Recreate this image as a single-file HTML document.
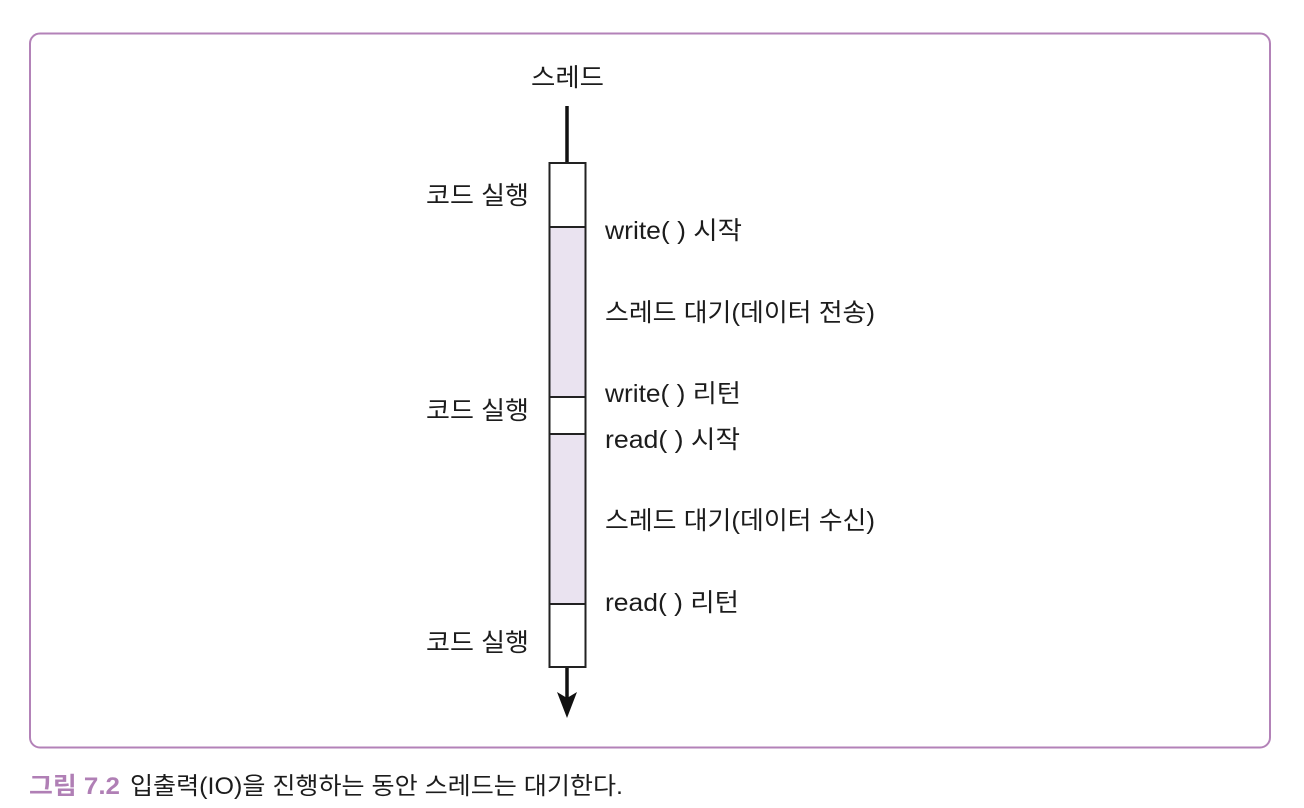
<!DOCTYPE html>
<html lang="ko">
<head>
<meta charset="utf-8">
<title>그림 7.2</title>
<style>
  html, body { margin: 0; padding: 0; background: #fff; }
  svg { display: block; }
  text { font-family: "Liberation Sans", "Noto Sans CJK KR", "NanumGothic", sans-serif; font-size: 25px; fill: #1c1c1c; }
</style>
</head>
<body>
<svg id="diagram" width="1304" height="808" viewBox="0 0 1304 808" xmlns="http://www.w3.org/2000/svg">
  <rect x="30" y="33.5" width="1240" height="714" rx="10" ry="10" fill="#fff" stroke="#b382b8" stroke-width="2"/>

  <text x="531" y="86" textLength="73" lengthAdjust="spacingAndGlyphs">스레드</text>

  <line x1="567" y1="106" x2="567" y2="163" stroke="#111" stroke-width="3.5"/>
  <line x1="567" y1="667" x2="567" y2="700" stroke="#111" stroke-width="3.5"/>
  <polygon points="567,718 557,692 567,698 577,692" fill="#111"/>

  <g id="segments"></g>

  <text x="426" y="204" textLength="103" lengthAdjust="spacingAndGlyphs">코드 실행</text>
  <text x="426" y="419" textLength="103" lengthAdjust="spacingAndGlyphs">코드 실행</text>
  <text x="426" y="651" textLength="103" lengthAdjust="spacingAndGlyphs">코드 실행</text>

  <text x="605" y="239" textLength="137" lengthAdjust="spacingAndGlyphs">write( ) 시작</text>
  <text x="605" y="321" textLength="270" lengthAdjust="spacingAndGlyphs">스레드 대기(데이터 전송)</text>
  <text x="605" y="402" textLength="136" lengthAdjust="spacingAndGlyphs">write( ) 리턴</text>
  <text x="605" y="448" textLength="135" lengthAdjust="spacingAndGlyphs">read( ) 시작</text>
  <text x="605" y="529" textLength="270" lengthAdjust="spacingAndGlyphs">스레드 대기(데이터 수신)</text>
  <text x="605" y="611" textLength="134" lengthAdjust="spacingAndGlyphs">read( ) 리턴</text>

  <text x="29" y="794" textLength="91" lengthAdjust="spacingAndGlyphs" style="font-weight:700;fill:#b07fb5;font-size:24px">그림 7.2</text>
  <text x="130" y="794" textLength="493" lengthAdjust="spacingAndGlyphs" style="font-size:24px">입출력(IO)을 진행하는 동안 스레드는 대기한다.</text>
</svg>
<script>
const segmentNames = ['run-1', 'wait-write', 'run-2', 'wait-read', 'run-3'];
const segmentStates = ['run', 'wait', 'run', 'wait', 'run'];
const segmentDurations = [64, 170, 37, 170, 63];

const barStartY = 163;
const barLeft = 549.5;
const barWidth = 36;
const stateFill = { run: '#ffffff', wait: '#eae3f0' };
function timeToY(t) { return barStartY + t; }

const segmentsGroup = document.getElementById('segments');
let elapsed = 0;
segmentDurations.forEach(function (duration, i) {
  const rect = document.createElementNS('http://www.w3.org/2000/svg', 'rect');
  
  
  rect.setAttribute('x', barLeft);
  rect.setAttribute('y', timeToY(elapsed));
  rect.setAttribute('width', barWidth);
  rect.setAttribute('height', timeToY(elapsed + duration) - timeToY(elapsed));
  rect.setAttribute('fill', stateFill[segmentStates[i]]);
  rect.setAttribute('stroke', '#222');
  rect.setAttribute('stroke-width', '2');
  segmentsGroup.appendChild(rect);
  elapsed += duration;
});
</script>
</body>
</html>
